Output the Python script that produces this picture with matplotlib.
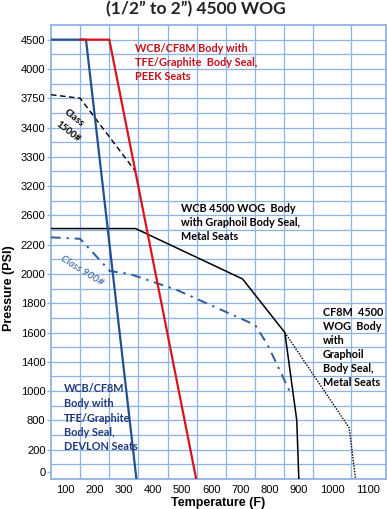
import numpy as np
import matplotlib
matplotlib.use("Agg")
import matplotlib.pyplot as plt
from matplotlib.ticker import FixedLocator, FixedFormatter, NullFormatter

# ---------------- data ----------------
y_labels = [0, 200, 800, 1000, 1400, 1600, 1800, 2000, 2200, 2600,
            3200, 3300, 3400, 3750, 4000, 4500]
x_labels = [100, 200, 300, 400, 500, 600, 700, 800, 900, 1000, 1100]
x_edges = [50, 150, 250, 350, 450, 550, 650, 750, 850, 950, 1050, 1150]

devlon_T = [50, 170, 343]
devlon_P = [4500, 4500, 0]

peek_T = [150, 250, 548]
peek_P = [4500, 4500, 0]

c1500_T = [50, 150, 340]
c1500_P = [3780, 3750, 3250]

wcb_T = [50, 340, 707, 852, 893, 900]
wcb_P = [2420, 2420, 1966, 1600, 800, 0]

c900_T = [50, 150, 252, 320, 480, 750, 793, 876]
c900_P = [2300, 2280, 2020, 2000, 1892, 1652, 1516, 968]

cf8m_T = [852, 1045, 1063]
cf8m_P = [1600, 650, 0]

# ---------------- scales (chart uses uneven axis steps) ----------------
y_pos = np.arange(len(y_labels), dtype=float)


def y_fwd(v):
    v = np.asarray(v, dtype=float)
    out = np.interp(v, y_labels, y_pos)
    out = np.where(v > y_labels[-1], y_pos[-1] + (v - y_labels[-1]) / 500.0, out)
    out = np.where(v < 0, v / 200.0, out)
    return out


def y_inv(p):
    p = np.asarray(p, dtype=float)
    out = np.interp(p, y_pos, y_labels)
    out = np.where(p > y_pos[-1], y_labels[-1] + (p - y_pos[-1]) * 500.0, out)
    out = np.where(p < 0, p * 200.0, out)
    return out


x_cell_w = [1, 1, 1, 1, 1, 1, 1, 1, 1, 1.29, 1.2]
x_edge_pos = np.concatenate([[0.0], np.cumsum(x_cell_w)])


def x_fwd(v):
    v = np.asarray(v, dtype=float)
    return np.interp(v, x_edges, x_edge_pos)


def x_inv(p):
    p = np.asarray(p, dtype=float)
    return np.interp(p, x_edge_pos, x_edges)


W, H = 387, 509
fig = plt.figure(figsize=(W / 100, H / 100), dpi=100)
ax = fig.add_axes([51 / W, (H - 479) / H, 335 / W, 454 / H])
ax.set_xscale("function", functions=(x_fwd, x_inv))
ax.set_yscale("function", functions=(y_fwd, y_inv))
ax.set_xlim(x_edges[0], x_edges[-1])
ax.set_ylim(0, float(y_inv(15.5)))

GRID = "#8DB3E2"
ax.set_axisbelow(True)
for s in ax.spines.values():
    s.set_color(GRID)
    s.set_linewidth(1.3)

# ticks
ax.xaxis.set_major_locator(FixedLocator(x_labels))
ax.xaxis.set_major_formatter(FixedFormatter([str(v) for v in x_labels]))
ax.xaxis.set_minor_locator(FixedLocator(x_edges[1:-1]))
ax.xaxis.set_minor_formatter(NullFormatter())

ytick_locs = [float(y_inv(0.25))] + y_labels[1:]
ax.yaxis.set_major_locator(FixedLocator(ytick_locs))
ax.yaxis.set_major_formatter(FixedFormatter([str(v) for v in y_labels]))
ax.yaxis.set_minor_locator(FixedLocator(list(y_inv(np.arange(0.5, 15.01, 0.5)))))
ax.yaxis.set_minor_formatter(NullFormatter())
ax.xaxis.remove_overlapping_locs = False
ax.yaxis.remove_overlapping_locs = False

ax.tick_params(axis="x", which="both", length=0, pad=4, labelsize=8,
               labelfontfamily="Liberation Sans")
ax.tick_params(axis="y", which="major", length=3, color=GRID, width=1,
               pad=1, labelsize=8, labelfontfamily="Liberation Sans")
ax.tick_params(axis="y", which="minor", length=0)
ax.grid(False, which="major")
ax.grid(True, which="minor", color=GRID, linewidth=0.9)

# ---------------- lines ----------------
ax.plot(c1500_T, c1500_P, color="black", lw=1.0, ls=(0, (4, 2.5)), zorder=3)
ax.plot(c900_T, c900_P, color="#2E5C97", lw=1.4, ls=(0, (5, 3, 1.2, 3)), zorder=3)
ax.plot(cf8m_T, cf8m_P, color="black", lw=1.0, ls=(0, (1, 1)), zorder=3)
ax.plot(wcb_T, wcb_P, color="black", lw=1.1, zorder=4)
ax.plot(devlon_T, devlon_P, color="#24508F", lw=1.6, zorder=5)
ax.plot(peek_T, peek_P, color="#D9141E", lw=1.6, zorder=6)


# ---------------- texts ----------------
def ptext(x, y, s, **kw):
    fig.text(x / W, 1 - y / H, s, **kw)


LAT = "Lato"
ptext(196, 9.5, "(1/2\u201d to 2\u201d) 4500 WOG", ha="center", va="center",
      fontsize=12.5, fontweight="bold", family=LAT, color="#222222")
ptext(9, 288, "Pressure (PSI)", rotation=90, ha="center", va="center",
      fontsize=9, fontweight="bold", family="Liberation Sans")
ptext(218, 503, "Temperature (F)", ha="center", va="center",
      fontsize=9, fontweight="bold", family="Liberation Sans")


def block(x, y0, dy, lines, color):
    for i, s in enumerate(lines):
        ptext(x, y0 + i * dy, s, ha="left", va="center", fontsize=7.8,
              fontweight="bold", family=LAT, color=color)


block(135, 48, 14, ["WCB/CF8M Body with", "TFE/Graphite  Body Seal,", "PEEK Seats"], "#C4111B")
block(181, 209, 14, ["WCB 4500 WOG  Body", "with Graphoil Body Seal,", "Metal Seats"], "black")
block(323, 312, 14.1, ["CF8M  4500", "WOG  Body", "with", "Graphoil", "Body Seal,", "Metal Seats"], "black")
block(64, 389, 14.5, ["WCB/CF8M", "Body with", "TFE/Graphite", "Body Seal,", "DEVLON Seats"], "#1F3A7A")

ptext(74, 118, "Class", rotation=-38, ha="center", va="center", fontsize=7,
      fontweight="bold", family=LAT, color="black")
ptext(68, 132, "1500#", rotation=-38, ha="center", va="center", fontsize=7,
      fontweight="bold", family=LAT, color="black")
ptext(82, 271, "Class 900#", rotation=-32, ha="center", va="center", fontsize=7.5,
      style="italic", family=LAT, color="#2E5C97")

fig.savefig("out.png", dpi=100)
